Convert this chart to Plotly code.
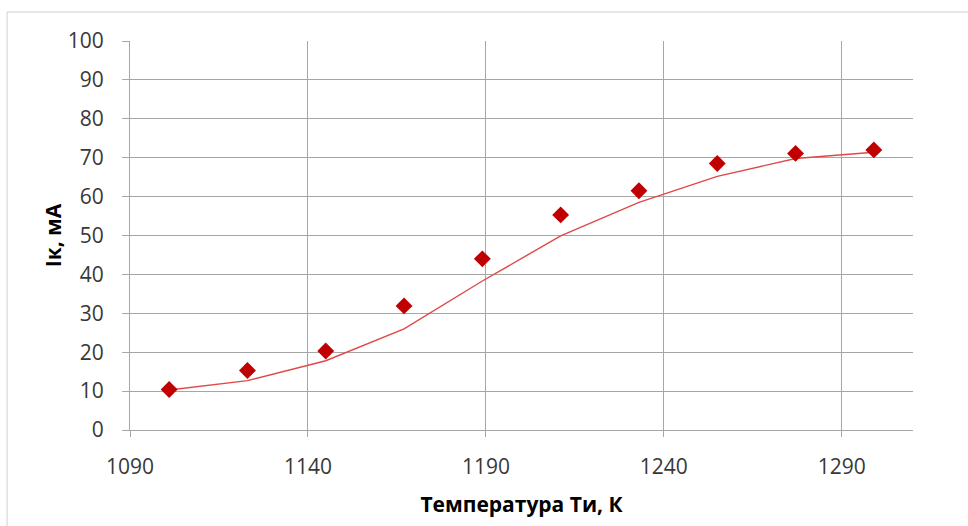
import plotly.graph_objects as go

# Measured collector current vs. emitter temperature, plus the smoothed trend
temperature_k = [1101, 1123, 1145, 1167, 1189, 1211, 1233, 1255, 1277, 1299]
current_measured_ma = [10.4, 15.3, 20.3, 31.9, 44.0, 55.3, 61.5, 68.5, 71.1, 72.0]
current_trend_ma = [10.3, 12.7, 17.8, 26.0, 38.3, 49.9, 58.5, 65.2, 69.8, 71.4]

x_ticks = [1090, 1140, 1190, 1240, 1290]
y_ticks = [0, 10, 20, 30, 40, 50, 60, 70, 80, 90, 100]

FONT = "Open Sans"
GRID = "#a6a6a6"

fig = go.Figure()

fig.add_trace(go.Scatter(
    x=temperature_k, y=current_trend_ma, mode="lines",
    line=dict(color="#e04848", width=1.4),
    hoverinfo="skip", showlegend=False,
))
fig.add_trace(go.Scatter(
    x=temperature_k, y=current_measured_ma, mode="markers",
    marker=dict(symbol="diamond", size=13, color="#c00000"),
    showlegend=False,
))

fig.update_layout(
    width=968, height=526,
    margin=dict(l=130, r=55, t=41, b=96),
    paper_bgcolor="white", plot_bgcolor="white",
    font=dict(family=FONT, color="#383838", size=21),
    xaxis=dict(
        range=[1090, 1310], tickvals=x_ticks, ticktext=[str(v) for v in x_ticks],
        showgrid=True, gridcolor=GRID, gridwidth=1,
        showline=True, linecolor=GRID, linewidth=1,
        ticks="outside", ticklen=6, tickcolor=GRID,
        ticklabelstandoff=12, zeroline=False,
        title=dict(text="<b>Температура Ти, К</b>", font=dict(size=21, color="#000000"),
                   standoff=18),
    ),
    yaxis=dict(
        range=[0, 100], tickvals=y_ticks,
        showgrid=True, gridcolor=GRID, gridwidth=1,
        showline=True, linecolor=GRID, linewidth=1,
        ticks="outside", ticklen=7, tickcolor=GRID,
        ticklabelstandoff=14, zeroline=False,
        title=dict(text="<b>Iк, мА</b>", font=dict(size=21, color="#000000"),
                   standoff=0),
    ),
    shapes=[dict(
        type="rect", xref="paper", yref="paper",
        x0=-0.157, x1=1.2, y0=-0.4, y1=1.0746,
        line=dict(color="#d0d0d0", width=1), fillcolor="rgba(0,0,0,0)",
        layer="below",
    )],
)

fig.write_html("out.html")
